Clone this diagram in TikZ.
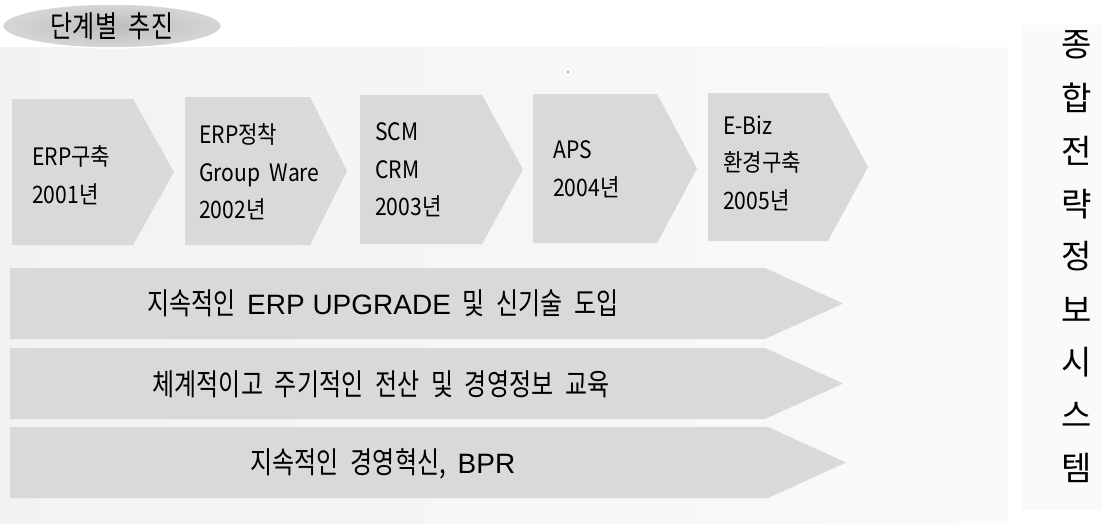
\documentclass[tikz,border=0pt]{standalone}
\usepackage{fontspec}
\setmainfont{Noto Sans CJK KR}
\newfontfamily\kr{Noto Sans CJK KR}
\newfontfamily\krn[FakeStretch=0.88]{Noto Sans CJK KR}
\newfontfamily\krw[FakeStretch=0.8,WordSpace=2.2]{Noto Sans CJK KR}
\newfontfamily\lat{Liberation Sans}
\usetikzlibrary{shapes.geometric}
\newcommand\latx[1]{{\lat\fontsize{28}{30}\selectfont #1}}
\newcommand\chevpath[5]{\fill[chev] (#1,#2) -- (#4,#2) -- (#5,{(#2+#3)/2}) -- (#4,#3) -- (#1,#3) -- cycle;}
\begin{document}
\begin{tikzpicture}[x=1pt,y=-1pt,
  chev/.style={fill=gray!30},
  steptext/.style={anchor=west, align=left, inner sep=0pt, font=\krn\fontsize{24}{37.5}\selectfont},
  bandtext/.style={anchor=center, inner sep=0pt, font=\krw\fontsize{30}{32}\selectfont},
  sidechar/.style={anchor=center, inner sep=0pt, font=\kr\fontsize{33}{35}\selectfont},
  titlebox/.style={ellipse, inner sep=0pt, minimum width=219pt, minimum height=44pt,
     inner color=gray!52, outer color=gray!32, draw=white, line width=1.5pt,
     font=\krw\fontsize{30}{32}\selectfont}
]
\useasboundingbox (0,0) rectangle (1102,523);
% backgrounds
\fill[left color=gray!10, right color=gray!4] (0,47) rectangle (1008,523);
\fill[gray!4] (1022,25) rectangle (1102,510);
\fill[gray!70] (568,72) circle (1.4);

% title
\node[titlebox] (title) at (112,26) {단계별 추진};

% step chevrons
\chevpath{12}{99}{245}{133}{174}
\chevpath{185}{97}{245}{310}{347}
\chevpath{360}{95}{244}{482}{523}
\chevpath{533}{94}{243}{657}{697}
\chevpath{708}{93}{241}{828}{868}

\node[steptext] (s1) at (32,175) {ERP구축\\2001년};
\node[steptext] (s2) at (199,172) {ERP정착\\Group\ \ Ware\\2002년};
\node[steptext] (s3) at (375,170) {SCM\\CRM\\2003년};
\node[steptext] (s4) at (553,169) {APS\\2004년};
\node[steptext] (s5) at (723,163) {E-Biz\\환경구축\\2005년};

% long arrows
\chevpath{10}{268}{339}{765}{843}
\chevpath{10}{348}{419}{765}{843}
\chevpath{10}{427}{498}{768}{846}

\node[bandtext] (b1) at (383,303) {지속적인 \latx{ERP UPGRADE} 및 신기술 도입};
\node[bandtext] (b2) at (381,384) {체계적이고 주기적인 전산 및 경영정보 교육};
\node[bandtext] (b3) at (383,464) {지속적인 경영혁신, \latx{BPR}};

% side column
\foreach \c [count=\i from 0] in {종,합,전,략,정,보,시,스,템}{
  \node[sidechar] (side\i) at (1077,{45+52.9*\i}) {\c};
}
\end{tikzpicture}
\end{document}
